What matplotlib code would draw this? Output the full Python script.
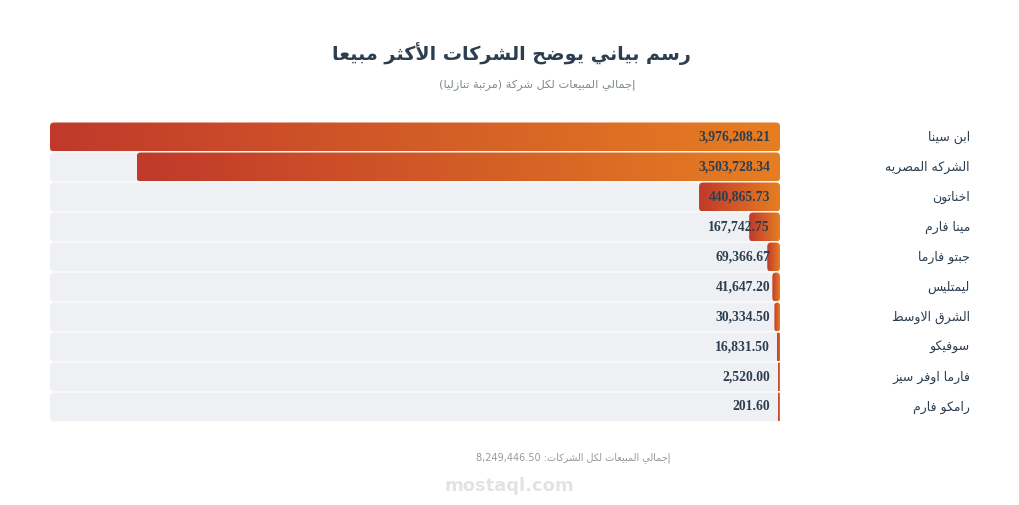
import re
import numpy as np
import matplotlib
matplotlib.use("Agg")
import matplotlib.pyplot as plt
from matplotlib.patches import FancyBboxPatch
from matplotlib import transforms
from matplotlib.colors import LinearSegmentedColormap

# ---------------- data ----------------
companies = ["ابن سينا", "الشركه المصريه", "اخناتون", "مينا فارم", "جبتو فارما",
             "ليمتليس", "الشرق الاوسط", "سوفيكو", "فارما اوفر سيز", "رامكو فارم"]
sales = [3976208.21, 3503728.34, 440865.73, 167742.75, 69366.67,
         41647.20, 30334.50, 16831.50, 2520.00, 201.60]
title = "رسم بياني يوضح الشركات الأكثر مبيعا"
subtitle = "إجمالي المبيعات لكل شركة (مرتبة تنازليا)"
footer_label = "إجمالي المبيعات لكل الشركات: "
total = sum(sales)

# ------------- minimal Arabic shaping + bidi -------------
_F = {'ء': (0xFE80, 1), 'آ': (0xFE81, 2), 'أ': (0xFE83, 2), 'ؤ': (0xFE85, 2), 'إ': (0xFE87, 2),
      'ئ': (0xFE89, 4), 'ا': (0xFE8D, 2), 'ب': (0xFE8F, 4), 'ة': (0xFE93, 2), 'ت': (0xFE95, 4),
      'ث': (0xFE99, 4), 'ج': (0xFE9D, 4), 'ح': (0xFEA1, 4), 'خ': (0xFEA5, 4), 'د': (0xFEA9, 2),
      'ذ': (0xFEAB, 2), 'ر': (0xFEAD, 2), 'ز': (0xFEAF, 2), 'س': (0xFEB1, 4), 'ش': (0xFEB5, 4),
      'ص': (0xFEB9, 4), 'ض': (0xFEBD, 4), 'ط': (0xFEC1, 4), 'ظ': (0xFEC5, 4), 'ع': (0xFEC9, 4),
      'غ': (0xFECD, 4), 'ف': (0xFED1, 4), 'ق': (0xFED5, 4), 'ك': (0xFED9, 4), 'ل': (0xFEDD, 4),
      'م': (0xFEE1, 4), 'ن': (0xFEE5, 4), 'ه': (0xFEE9, 4), 'و': (0xFEED, 2), 'ى': (0xFEEF, 2),
      'ي': (0xFEF1, 4)}
_LA = {'آ': 0xFEF5, 'أ': 0xFEF7, 'إ': 0xFEF9, 'ا': 0xFEFB}


def _shape(t):
    out, i, n = [], 0, len(t)
    while i < n:
        c = t[i]
        if c not in _F:
            out.append(c); i += 1; continue
        prev = t[i - 1] if i > 0 else None
        jp = prev in _F and _F[prev][1] == 4
        if c == 'ل' and i + 1 < n and t[i + 1] in _LA:
            out.append(chr(_LA[t[i + 1]] + (1 if jp else 0))); i += 2; continue
        nxt = t[i + 1] if i + 1 < n else None
        base, k = _F[c]
        jn = k == 4 and nxt in _F
        if k == 1:
            f = 0
        elif k == 2:
            f = 1 if jp else 0
        else:
            f = {(False, False): 0, (True, False): 1, (False, True): 2, (True, True): 3}[(jp, jn)]
        out.append(chr(base + f)); i += 1
    return ''.join(out)


def ar(t):
    toks = re.split(r'([0-9A-Za-z][0-9A-Za-z.,]*)', t)
    res = []
    for tok in reversed(toks):
        if not tok:
            continue
        if re.fullmatch(r'[0-9A-Za-z][0-9A-Za-z.,]*', tok):
            res.append(tok)
        else:
            s = _shape(tok)[::-1]
            s = s.translate(str.maketrans('()', ')('))
            res.append(s)
    return ''.join(res)


# ---------------- figure ----------------
W, H = 1020, 505
fig = plt.figure(figsize=(W / 100, H / 100), dpi=100)
fig.patch.set_facecolor("white")

x_left, x_right, y_top, y_bot = 50, 780, 122, 422
ax = fig.add_axes([x_left / W, 1 - y_bot / H, (x_right - x_left) / W, (y_bot - y_top) / H])
ax.set_axis_off()
vmax = max(sales)
n = len(sales)
ax.set_xlim(vmax, 0)
ax.set_ylim(n - 0.5, -0.5)

px_x = vmax / (x_right - x_left)   # data units per pixel (x)
px_y = n / (y_bot - y_top)         # data units per pixel (y)
radius_px = 4
bar_h = 0.965
track_color = "#eff0f4"
cmap = LinearSegmentedColormap.from_list("g", ["#c0392b", "#e67e22"])
grad = np.linspace(0, 1, 256).reshape(1, -1)

for i, (name, v) in enumerate(zip(companies, sales)):
    y0 = i - bar_h / 2
    track = FancyBboxPatch((0, y0), vmax, bar_h,
                           boxstyle=f"round,pad=0,rounding_size={radius_px * px_x}",
                           mutation_aspect=px_y / px_x, fc=track_color, ec="none", zorder=1)
    ax.add_patch(track)
    wv = max(v, 2 * px_x)   # minimum visible width of 2px
    rs = min(radius_px * px_x, wv / 2)
    bar = FancyBboxPatch((0, y0), wv, bar_h,
                         boxstyle=f"round,pad=0,rounding_size={rs}",
                         mutation_aspect=px_y / px_x, fc="none", ec="none", zorder=2)
    ax.add_patch(bar)
    im = ax.imshow(grad, cmap=cmap, aspect="auto", extent=(wv, 0, y0 + bar_h, y0),
                   interpolation="bilinear", zorder=2)
    im.set_clip_path(bar)
    off = transforms.ScaledTranslation(-10 / 100, 0, fig.dpi_scale_trans)
    ax.text(0, i, f"{v:,.2f}", transform=ax.transData + off, ha="right", va="center",
            fontsize=9.8, fontweight="bold", family="Liberation Serif", color="#2c3e50", zorder=4)
    tr = transforms.blended_transform_factory(fig.transFigure, ax.transData)
    ax.text(970 / W, i, ar(name), transform=tr, ha="right", va="center",
            fontsize=9.0, family="DejaVu Sans", color="#2c3e50", clip_on=False)

ax.set_xlim(vmax, 0)
ax.set_ylim(n - 0.5, -0.5)

fig.text(511 / W, 1 - 54 / H, ar(title), ha="center", va="center", fontsize=13.8,
         fontweight="bold", family="DejaVu Sans", color="#2c3e50")
fig.text(537 / W, 1 - 85 / H, ar(subtitle), ha="center", va="center", fontsize=8.2,
         family="DejaVu Sans", color="#7f8c8d")

# watermark
fig.text(509 / W, 1 - 486 / H, "mostaql.com", ha="center", va="center", fontsize=13,
         fontweight="bold", family="DejaVu Sans", color="#dcdcdc", alpha=0.8)

fig.text(670 / W, 1 - 458 / H, ar(footer_label + f"{total:,.2f}"), ha="right", va="center",
         fontsize=7.0, family="DejaVu Sans", color="#999999")

fig.savefig("out.png", dpi=100, facecolor="white")
